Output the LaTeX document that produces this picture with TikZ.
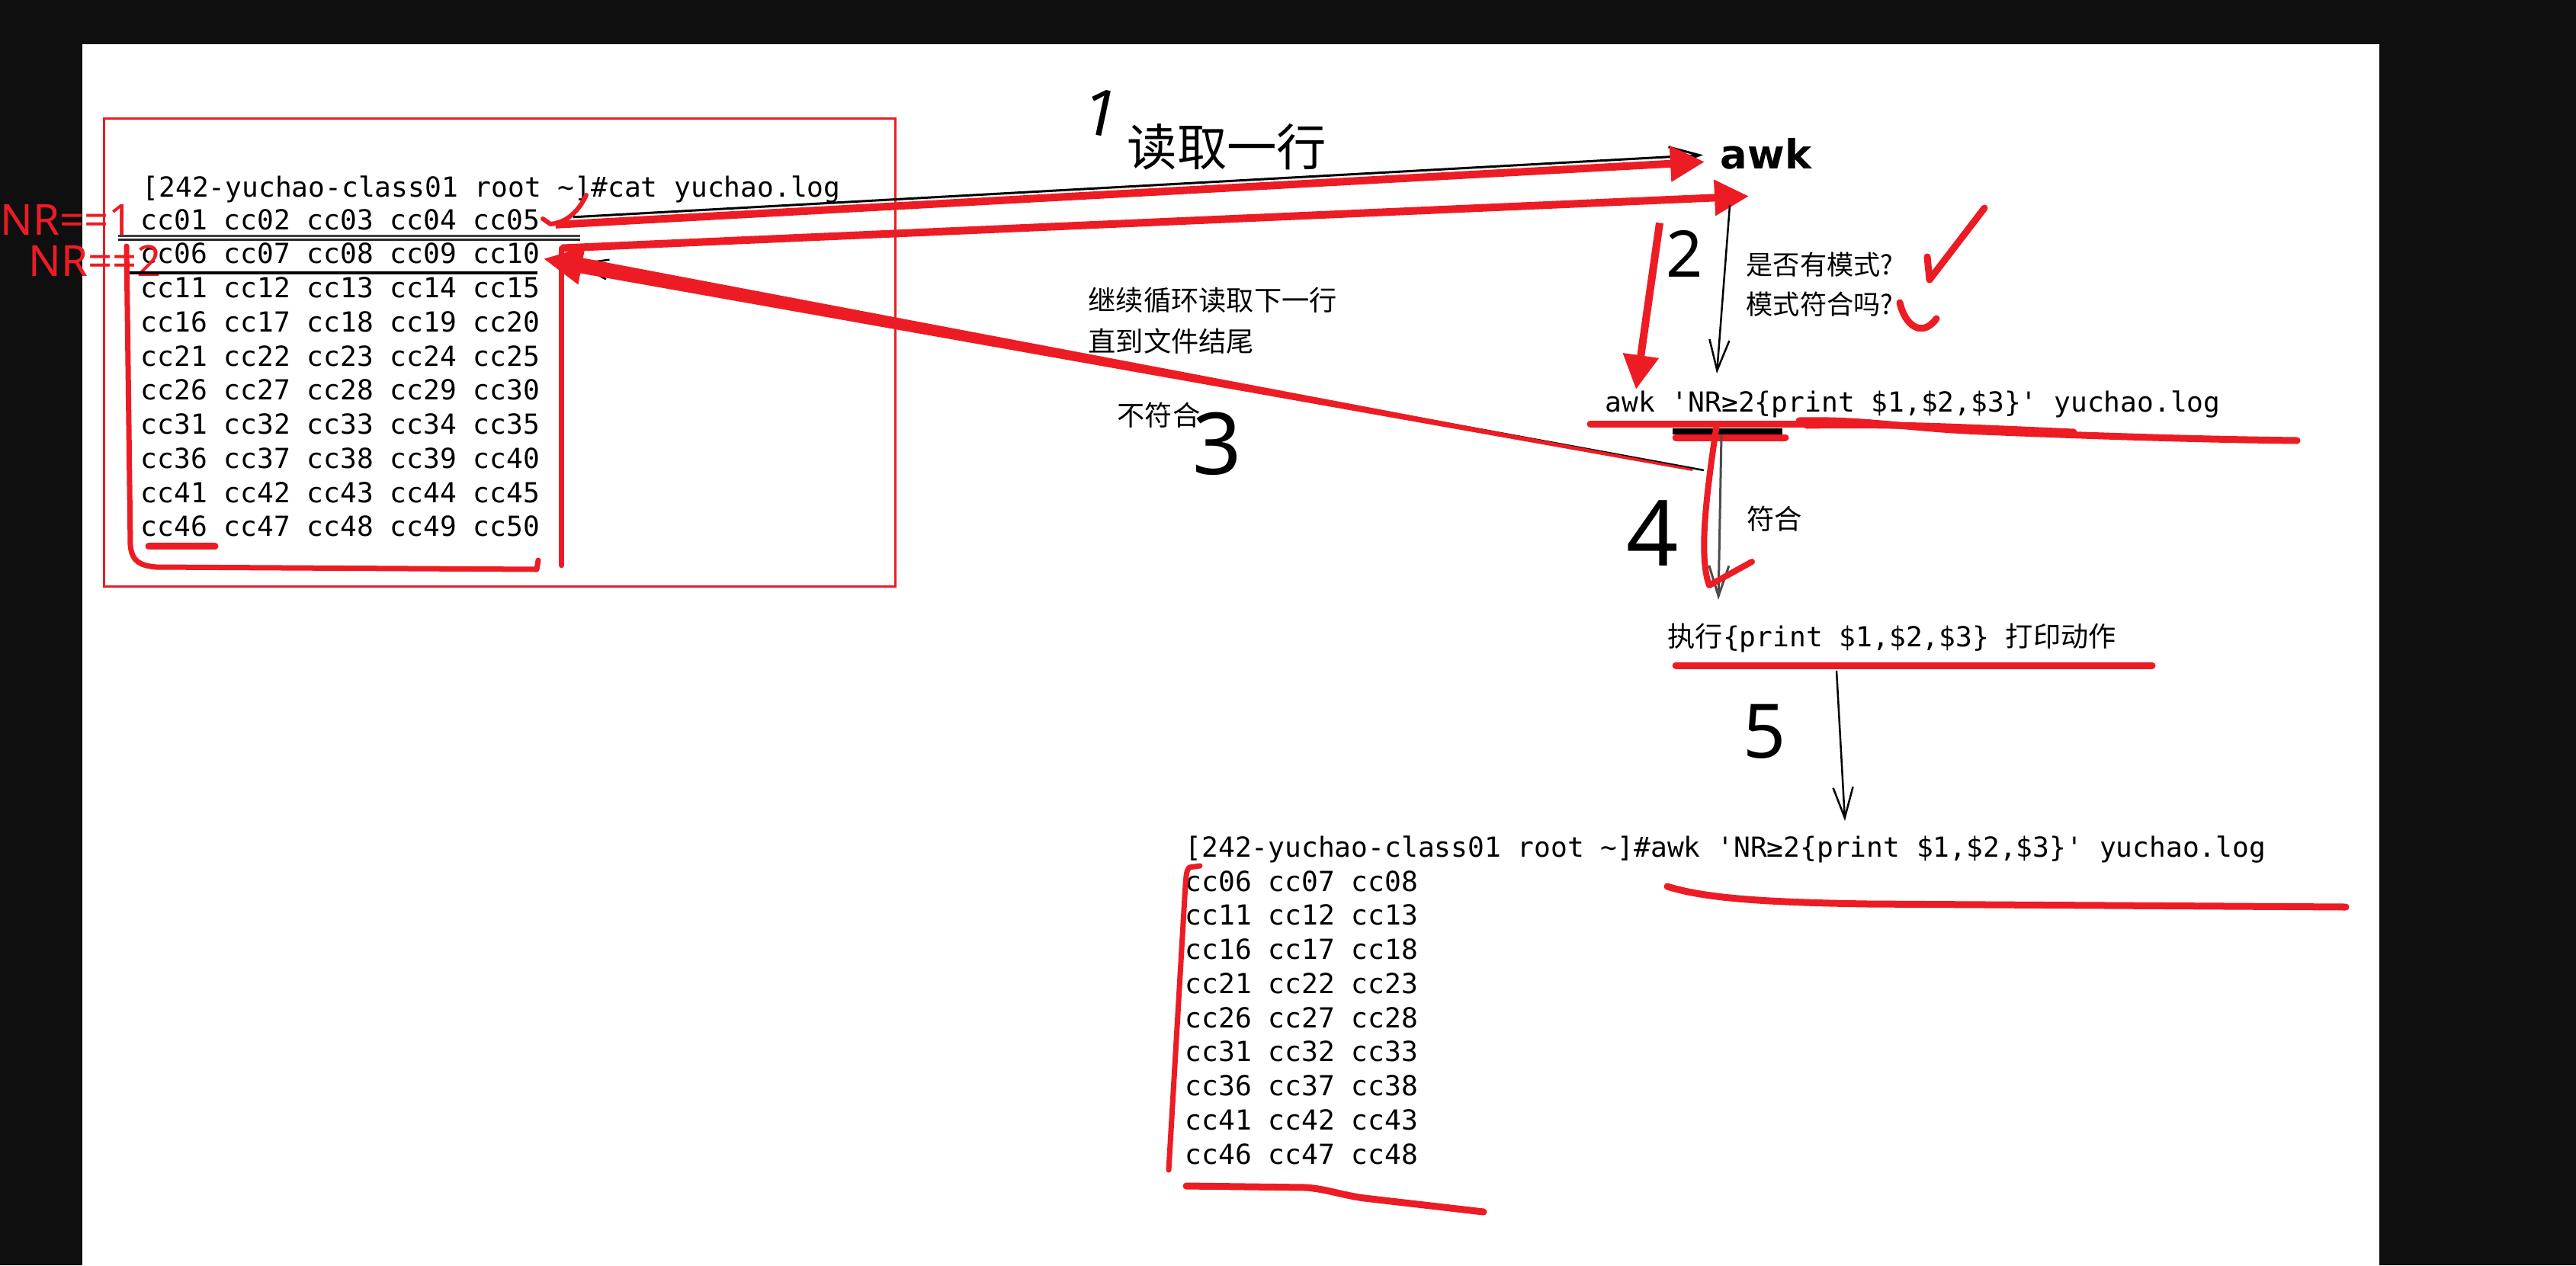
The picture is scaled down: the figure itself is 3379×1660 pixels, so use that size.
\documentclass[tikz,border=0pt]{standalone}
\usepackage{fontspec}
\setmainfont{Noto Sans}
\newfontfamily\cjk{Noto Sans CJK SC}
\newfontfamily\mono{DejaVu Sans Mono}
\newfontfamily\awkfont{DejaVu Sans}
\usetikzlibrary{arrows.meta,calc}
\definecolor{redink}{HTML}{ED1C24}
\definecolor{bgdark}{HTML}{0F0F0F}

\begin{document}
\begin{tikzpicture}[
  x=0.01cm, y=-0.01cm,
  mono/.style={font=\mono\fontsize{10.3}{12}\selectfont, inner sep=0pt, anchor=base west},
  cjknote/.style={font=\cjk\fontsize{10.3}{15.4}\selectfont, inner sep=0pt, anchor=west, align=left},
  nrlabel/.style={text=redink, font=\fontsize{16}{16}\selectfont, inner sep=0pt, anchor=west},
  hand/.style={inner sep=0pt, font=\fontsize{24}{24}\selectfont},
  redarr/.style={draw=redink, line width=1mm, -{Triangle[length=4.5mm,width=4.5mm]}},
  inkarr/.style={draw=black, line width=0.25mm, -{Straight Barb[length=4mm,width=2.6mm]}},
  redpen/.style={draw=redink, line width=0.9mm, line cap=round, line join=round}]
  \useasboundingbox (0,0) rectangle (3379,1660);
  \fill[bgdark] (0,0) rectangle (3379,1660);
  \fill[white] (108,58) rectangle (3121,1660);

  % cat output
  \draw[redink, line width=0.3mm] (136,155) rectangle (1174,769);
  \node[mono] (hdr) at (186,258) {[242-yuchao-class01 root \textasciitilde]\#cat yuchao.log};
  \foreach \t [count=\i] in {cc01 cc02 cc03 cc04 cc05, cc06 cc07 cc08 cc09 cc10,
      cc11 cc12 cc13 cc14 cc15, cc16 cc17 cc18 cc19 cc20, cc21 cc22 cc23 cc24 cc25,
      cc26 cc27 cc28 cc29 cc30, cc31 cc32 cc33 cc34 cc35, cc36 cc37 cc38 cc39 cc40,
      cc41 cc42 cc43 cc44 cc45, cc46 cc47 cc48 cc49 cc50}
    \node[mono] (r\i) at (184,{301+44.75*(\i-1)}) {\t};
  \node[nrlabel] (nr1) at (0,288) {NR==1};
  \node[nrlabel] (nr2) at (37,342) {NR==2};

  % row marks
  \draw[black!75, line width=0.3mm] ($(r1.base west)+(-29,8)$) -- ($(r1.base east)+(52,8)$);
  \draw[black!85, line width=0.3mm] ($(r1.base west)+(-29,13)$) -- ($(r1.base east)+(52,13)$);
  \draw[black, line width=0.4mm] ($(r2.base west)+(-18,12)$) -- ($(r2.base east)+(-4,12)$);
  \draw[redpen, line width=0.7mm] (166,323) -- (171,715) .. controls (173,738) and (185,742) .. (205,744) -- (704,747) -- (706,735);
  \draw[redpen] ($(r10.base west)+(11,13)$) -- ($(r10.base west)+(98,13)$);
  \draw[redpen, line width=0.6mm] (769,256) .. controls (760,275) and (745,292) .. (722,294) -- (712,287);

  % awk
  \node[anchor=base west, font=\awkfont\bfseries\fontsize{15}{15}\selectfont, inner sep=0pt] (awk) at (2256,221) {awk};
  \node[cjknote, font=\cjk\fontsize{18.6}{20}\selectfont] (readline) at (1478,193) {读取一行};
  \node[hand, rotate=-12] (n1) at (1445,148) {1};
  \draw[inkarr, line width=0.3mm] ($(r1.east)+(43,-3)$) -- ($(awk.west)+(-22,2)$);
  \draw[redarr] ($(r1.east)+(20,7)$) -- ($(awk.west)+(-20,11)$);
  \draw[redpen, line width=0.7mm] ($(r10.base east)+(28,38)$) -- ($(r2.east)+(28,-7)$);
  \draw[redarr] ($(r2.east)+(28,-7)$) -- ($(awk.south west)+(38,35)$);

  % pattern check
  \node[mono] (cmd) at (2105,540) {awk \textquotesingle NR≥2\{print \$1,\$2,\$3\}\textquotesingle\ yuchao.log};
  \node[cjknote, font=\cjk\fontsize{10}{14.8}\selectfont] (askpat) at (2290,373) {是否有模式?\\模式符合吗?};
  \node[hand] (n2) at (2210,333) {2};
  \draw[inkarr] ($(awk.south west)+(13,47)$) -- ($(cmd.base west)+(147,-50)$);
  \draw[redarr] ($(awk.south west)+(-79,70)$) -- ($(cmd.base west)+(41,-29)$);
  \draw[redpen] (2528,337) -- (2531,367) -- (2603,273);
  \draw[redpen] (2492,397) .. controls (2498,425) and (2520,445) .. (2540,418);
  \draw[redpen] (2086,556) -- (2370,556);
  \draw[black, line width=0.8mm] (2194,566) -- (2338,566);
  \draw[redpen] (2198,574) -- (2342,574);
  \draw[redpen] (2360,552) .. controls (2450,550) and (2500,562) .. (2600,566) .. controls (2700,570) and (2850,576) .. (3013,578);
  \draw[redpen] (2370,558) .. controls (2480,556) and (2560,560) .. (2720,567);

  % no match: back to next line
  \node[cjknote] (loop) at (1427,421) {继续循环读取下一行\\直到文件结尾};
  \node[cjknote] (nomatch) at (1465,545) {不符合};
  \node[hand, font=\fontsize{32}{32}\selectfont] (n3) at (1597,582) {3};
  \coordinate (ret) at ($(cmd.base west)+(130,77)$);
  \draw[inkarr] (ret) -- ($(r2.east)+(45,13)$);
  \fill[redink] ($(r2.east)+(51,5)$) -- ($(ret)+(-15,-2)$) -- ($(ret)+(-15,1)$) -- ($(r2.east)+(47,25)$) -- cycle;
  \draw[redink, line width=0.2mm, -{Triangle[length=5mm,width=5mm]}] ($(r2.east)+(54,16)$) -- ($(r2.east)+(5,7)$);

  % match: run action
  \node[mono] (exec) at (2187,848) {{\cjk 执行}\{print \$1,\$2,\$3\} {\cjk 打印动作}};
  \node[cjknote] (match) at (2291,681) {符合};
  \node[hand, font=\fontsize{34}{34}\selectfont] (n4) at (2168,700) {4};
  \draw[inkarr, draw=black!70, line width=0.3mm] ($(cmd.base west)+(153,31)$) -- ($(exec.base west)+(67,-61)$);
  \draw[redpen, line width=0.8mm] ($(cmd.base west)+(147,16)$) .. controls (2238,650) and (2228,730) .. ($(exec.base west)+(55,-80)$) -- ($(exec.base west)+(111,-111)$);
  \draw[redpen] ($(exec.base west)+(11,25)$) -- ++(625,0);

  % result
  \node[mono] (out) at (1554,1124) {[242-yuchao-class01 root \textasciitilde]\#awk \textquotesingle NR≥2\{print \$1,\$2,\$3\}\textquotesingle\ yuchao.log};
  \foreach \t [count=\i] in {cc06 cc07 cc08, cc11 cc12 cc13, cc16 cc17 cc18, cc21 cc22 cc23,
      cc26 cc27 cc28, cc31 cc32 cc33, cc36 cc37 cc38, cc41 cc42 cc43, cc46 cc47 cc48}
    \node[mono] (o\i) at (1554,{1169+44.75*(\i-1)}) {\t};
  \node[hand, font=\fontsize{28}{28}\selectfont] (n5) at (2315,960) {5};
  \draw[inkarr] ($(exec.base west)+(222,32)$) -- ($(out.base west)+(866,-47)$);
  \draw[redpen] (2187,1163) .. controls (2240,1180) and (2330,1184) .. (2450,1186) -- (3077,1190);
  \draw[redpen, line width=0.7mm] (1574,1136) -- (1560,1138) .. controls (1556,1142) and (1556,1150) .. (1555,1160) -- (1533,1535);
  \draw[redpen] (1556,1556) -- (1713,1558) .. controls (1740,1560) and (1760,1568) .. (1790,1572) -- (1946,1590);
\end{tikzpicture}
\end{document}
